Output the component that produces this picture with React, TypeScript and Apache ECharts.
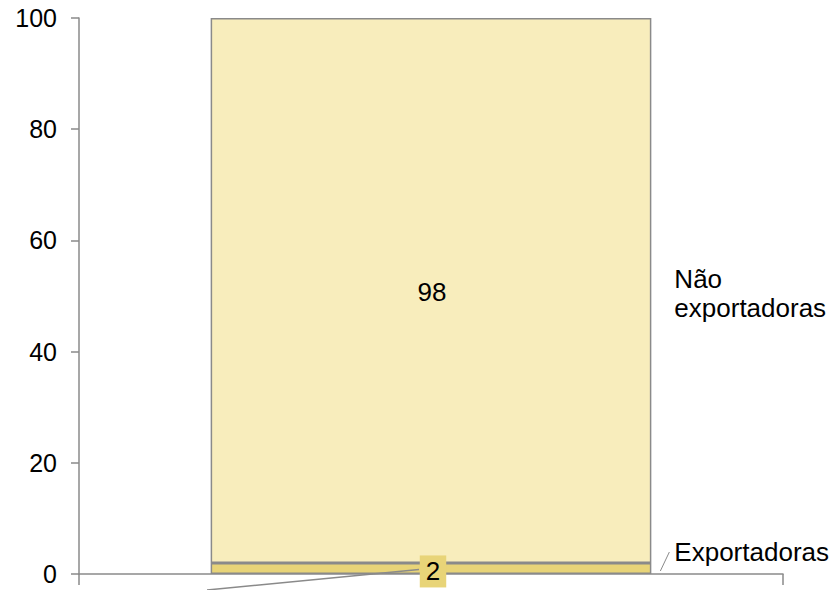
import React, { useEffect, useRef } from "react";
import * as echarts from "echarts";

const categories = [""];
const exportadoras = [2];
const naoExportadoras = [98];
const seriesNames = ["Exportadoras", "Não\nexportadoras"];
const yTicks = { min: 0, max: 100, interval: 20 };

const W = 835;
const H = 590;
const GRID = { left: 79, right: 52, top: 18, bottom: 16 };
const BAR_FRAC = 0.626;
const FONT = "Liberation Sans, Arial, sans-serif";
const FS = 26;
const AXIS_FS = 25;

export default function App() {
  const ref = useRef<HTMLDivElement>(null);
  useEffect(() => {
    if (!ref.current) return;
    const chart = echarts.init(ref.current, null, { renderer: "svg" });
    const option: any = {
      animation: false,
      grid: { ...GRID },
      xAxis: {
        type: "category",
        data: categories,
        axisLine: { lineStyle: { color: "#8a8a8a", width: 1.5 } },
        axisTick: { show: true, length: 11, lineStyle: { color: "#8a8a8a", width: 1.5 } },
        axisLabel: { show: false },
      },
      yAxis: {
        type: "value",
        min: yTicks.min,
        max: yTicks.max,
        interval: yTicks.interval,
        splitLine: { show: false },
        axisLine: { show: true, lineStyle: { color: "#8a8a8a", width: 1.5 } },
        axisTick: { show: true, length: 8, lineStyle: { color: "#8a8a8a", width: 1.5 } },
        axisLabel: { color: "#000", fontSize: AXIS_FS, fontFamily: FONT, margin: 22 },
      },
      series: [
        {
          name: seriesNames[0],
          type: "bar",
          stack: "a",
          barWidth: BAR_FRAC * 100 + "%",
          data: exportadoras,
          itemStyle: { color: "#e8d478", borderColor: "#8a8a8a", borderWidth: 1.5 },
          label: {
            show: true,
            position: "inside",
            offset: [2, 3],
            color: "#000",
            fontSize: FS,
            fontFamily: FONT,
            lineHeight: 26,
            backgroundColor: "#e8d478",
            padding: [3, 6, 3, 6],
          },
        },
        {
          name: seriesNames[1],
          type: "bar",
          stack: "a",
          data: naoExportadoras,
          itemStyle: { color: "#f8edbc", borderColor: "#8a8a8a", borderWidth: 1.5 },
          label: {
            show: true,
            position: "inside",
            offset: [1, 2],
            color: "#000",
            fontSize: FS,
            fontFamily: FONT,
          },
        },
      ],
    };
    chart.setOption(option);

    const gridW = W - GRID.left - GRID.right;
    const center = GRID.left + gridW / 2;
    const right = center + (gridW * BAR_FRAC) / 2;
    const toY = (v: number) => chart.convertToPixel({ yAxisIndex: 0 }, v) as number;
    const y0 = toY(0);
    const yExp = toY(exportadoras[0]);
    const yMidExp = (y0 + yExp) / 2;
    const yMidNao = toY(exportadoras[0] + naoExportadoras[0] / 2);

    chart.setOption({
      graphic: [
        {
          type: "line",
          shape: { x1: center - 12, y1: yMidExp + 1, x2: center - 224, y2: y0 + 16 },
          style: { stroke: "#8a8a8a", lineWidth: 1.5 },
          z: 10,
        },
        {
          type: "line",
          shape: { x1: right + 9, y1: y0 - 3, x2: right + 18, y2: y0 - 22 },
          style: { stroke: "#8a8a8a", lineWidth: 1 },
        },
        {
          type: "text",
          x: right + 23,
          y: y0 - 22,
          style: {
            text: seriesNames[0],
            fill: "#000",
            fontSize: FS,
            fontFamily: FONT,
            verticalAlign: "middle",
            align: "left",
          },
        },
        {
          type: "text",
          x: right + 23,
          y: yMidNao + 3,
          style: {
            text: seriesNames[1],
            fill: "#000",
            fontSize: FS,
            fontFamily: FONT,
            verticalAlign: "middle",
            align: "left",
            lineHeight: 29,
          },
        },
      ],
    });

    return () => chart.dispose();
  }, []);
  return (
    <div
      ref={ref}
      style={{ position: "fixed", left: 0, top: 0, width: W, height: H, background: "#fff" }}
    />
  );
}
